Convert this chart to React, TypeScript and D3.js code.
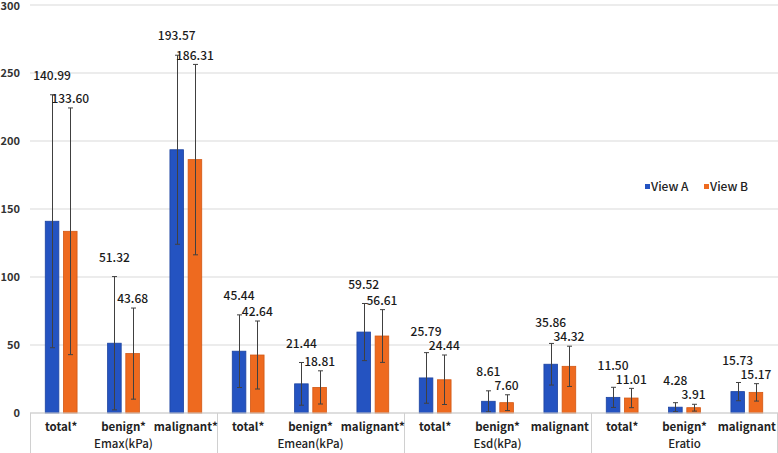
import React from "react";
import * as d3 from "d3";

const categories = ["total*", "benign*", "malignant*", "total*", "benign*", "malignant*", "total*", "benign*", "malignant", "total*", "benign*", "malignant"];
const groups = ["Emax(kPa)", "Emean(kPa)", "Esd(kPa)", "Eratio"];
const seriesNames = ["View A", "View B"];
const viewA = [140.99, 51.32, 193.57, 45.44, 21.44, 59.52, 25.79, 8.61, 35.86, 11.5, 4.28, 15.73];
const viewB = [133.6, 43.68, 186.31, 42.64, 18.81, 56.61, 24.44, 7.6, 34.32, 11.01, 3.91, 15.17];
const sdA = [93, 49, 69.5, 26.7, 15.7, 21, 18.6, 7.7, 15.3, 7.4, 3.3, 6.7];
const sdB = [90.7, 33.5, 70, 25, 12.2, 19.4, 18.2, 5.8, 14.8, 7.1, 2.5, 6.4];
const yTicks = [0, 50, 100, 150, 200, 250, 300];

const W = 778;
const H = 453;
const FONT = "'Noto Sans CJK SC', 'Noto Sans', sans-serif";
const colors = ["#2453c1", "#ee6a1f"];
const strokes = ["#1c43a0", "#d25814"];

export default function App() {
  const left = 30, right = 778, top = 5, bottom = 413;
  const y = d3.scaleLinear().domain([0, 300]).range([bottom, top]);
  const idx = categories.map((_, i) => i);
  const x0 = d3.scaleBand<number>().domain(idx).range([left, right]).padding(0);
  const x1 = d3.scaleBand<string>().domain(seriesNames).range([-15.9, 15.9]).paddingInner(0.253).paddingOuter(0);
  const groupScale = d3.scaleBand<number>().domain(groups.map((_, i) => i)).range([left, right]).padding(0);
  const data = [viewA, viewB];
  const sds = [sdA, sdB];
  const fmt = d3.format(".2f");
  const barCenter = (i: number, s: string) => (x0(i) as number) + x0.bandwidth() / 2 + (x1(s) as number) + x1.bandwidth() / 2;
  const labelY = (si: number, i: number) => {
    const orangeY = y(viewB[i] + sdB[i]) - 9;
    if (si === 1) return orangeY;
    return Math.min(y(viewA[i] + sdA[i]) - 19, orangeY - 14);
  };

  return (
    <div style={{ position: "fixed", left: 0, top: 0 }}>
      <svg width={W} height={H} style={{ display: "block", background: "#fff" }} fontFamily={FONT}>
        {yTicks.map((t) => (
          <g key={t}>
            <line x1={left} x2={right} y1={y(t)} y2={y(t)} stroke="#d9d9d9" strokeWidth={1} />
            <text x={20} y={y(t) + (t === 300 ? 1 : 0)} dy="0.35em" textAnchor="end" fontSize={11} fontWeight={600} fill="#333">
              {t}
            </text>
          </g>
        ))}
        {seriesNames.map((s, si) => (
          <g key={s}>
            {idx.map((i) => {
              const v = data[si][i];
              const bx = (x0(i) as number) + x0.bandwidth() / 2 + (x1(s) as number);
              const bw = x1.bandwidth();
              return (
                <rect key={i} x={bx} y={y(v)} width={bw} height={y(0) - y(v)} fill={colors[si]} stroke={strokes[si]} strokeWidth={0.8} />
              );
            })}
          </g>
        ))}
        {seriesNames.map((s, si) => (
          <g key={s} stroke="#404040" strokeWidth={1}>
            {idx.map((i) => {
              const v = data[si][i];
              const sd = sds[si][i];
              const cx = Math.round(barCenter(i, s)) + 0.5;
              const yt = y(v + sd);
              const yb = y(Math.max(0, v - sd));
              return (
                <g key={i}>
                  <line x1={cx} x2={cx} y1={yt} y2={yb} />
                  <line x1={cx - 2.5} x2={cx + 2.5} y1={yt} y2={yt} />
                  <line x1={cx - 2.5} x2={cx + 2.5} y1={yb} y2={yb} />
                </g>
              );
            })}
          </g>
        ))}
        {seriesNames.map((s, si) => (
          <g key={s}>
            {idx.map((i) => (
              <text key={i} x={barCenter(i, s)} y={labelY(si, i)} dy="0.35em" textAnchor="middle" fontSize={12} fontWeight={500} fill="#1a1a1a">
                {fmt(data[si][i])}
              </text>
            ))}
          </g>
        ))}
        <line x1={left} x2={right} y1={bottom} y2={bottom} stroke="#d0d0d0" strokeWidth={1} />
        {d3.range(groups.length + 1).map((g) => {
          const gx = Math.round(g < groups.length ? (groupScale(g) as number) : right - 1) + 0.5;
          return <line key={g} x1={gx} x2={gx} y1={bottom} y2={H} stroke="#d0d0d0" strokeWidth={1} />;
        })}
        {idx.map((i) => (
          <text key={i} x={(x0(i) as number) + x0.bandwidth() / 2} y={427} dy="0.35em" textAnchor="middle" fontSize={11.5} fontWeight={600} fill="#222">
            {categories[i]}
          </text>
        ))}
        {groups.map((g, gi) => (
          <text key={g} x={(groupScale(gi) as number) + groupScale.bandwidth() / 2} y={444} dy="0.35em" textAnchor="middle" fontSize={11.5} fontWeight={500} fill="#222">
            {g}
          </text>
        ))}
        {seriesNames.map((s, si) => {
          const lx = 645 + si * 59;
          return (
            <g key={s}>
              <rect x={lx} y={184} width={5} height={5} fill={colors[si]} />
              <text x={lx + 6} y={186.5} dy="0.35em" fontSize={12} fontWeight={500} fill="#222">
                {s}
              </text>
            </g>
          );
        })}
      </svg>
    </div>
  );
}
